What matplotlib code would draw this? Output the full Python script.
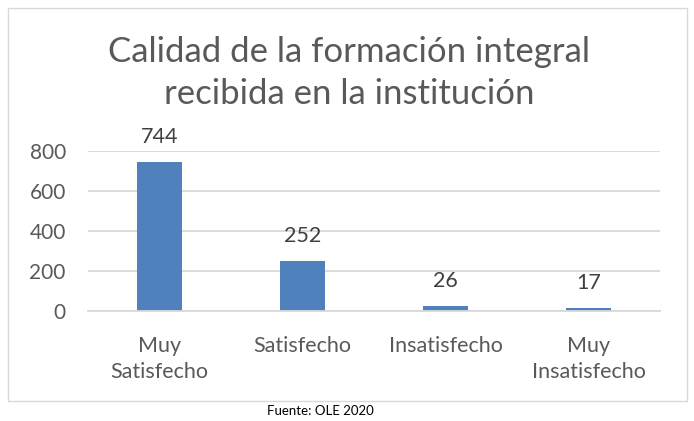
import matplotlib.pyplot as plt
from matplotlib.patches import Rectangle

categories = ["Muy\nSatisfecho", "Satisfecho", "Insatisfecho", "Muy\nInsatisfecho"]
values = [744, 252, 26, 17]
yticks = [0, 200, 400, 600, 800]
title = "Calidad de la formación integral\nrecibida en la institución"
source = "Fuente: OLE 2020"

plt.rcParams["font.family"] = ["Lato", "DejaVu Sans"]
W, H = 694, 421
fig = plt.figure(figsize=(W / 100, H / 100), dpi=100)

# chart frame
fig.patches.append(Rectangle((8 / W, 1 - 401 / H), 679 / W, 393 / H,
                             transform=fig.transFigure, fill=False,
                             edgecolor="#d9d9d9", linewidth=1))

ax = fig.add_axes([88 / W, 1 - 311 / H, 572 / W, 160 / H])
x = range(len(categories))
bars = ax.bar(x, values, width=0.31, color="#4f81bd")
ax.set_xlim(-0.5, len(categories) - 0.5)
ax.set_ylim(0, 800)
ax.set_yticks(yticks)
ax.yaxis.grid(True, color="#d9d9d9", linewidth=1.3)
ax.set_axisbelow(True)
for s in ["top", "right", "left"]:
    ax.spines[s].set_visible(False)
ax.spines["bottom"].set_color("#d9d9d9")
ax.spines["bottom"].set_linewidth(1.3)
ax.tick_params(axis="both", length=0, labelcolor="#595959")
ax.tick_params(axis="y", pad=16, labelsize=15)
ax.tick_params(axis="x", pad=18, labelsize=15.5)
ax.set_xticks(list(x))
ax.set_xticklabels(categories, linespacing=1.35)

for b, v in zip(bars, values):
    ax.annotate(str(v), (b.get_x() + b.get_width() / 2, v),
                xytext=(0, 18), textcoords="offset points",
                ha="center", va="center", fontsize=15.5, color="#404040")

fig.text(349 / W, 1 - 73 / H, title, ha="center", va="center",
         fontsize=25, color="#595959", linespacing=1.35)
fig.text(320 / W, 1 - 411 / H, source, ha="center", va="center",
         fontsize=9.5, color="#000000")

fig.savefig("out.png", dpi=100)
